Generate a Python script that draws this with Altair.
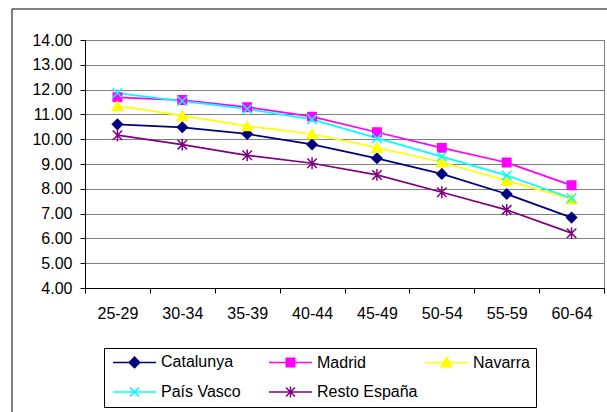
import altair as alt
import pandas as pd

# Age groups and regional series
edades = ["25-29", "30-34", "35-39", "40-44", "45-49", "50-54", "55-59", "60-64"]
series = ["Catalunya", "Madrid", "Navarra", "País Vasco", "Resto España"]

catalunya = [10.60, 10.48, 10.21, 9.79, 9.23, 8.60, 7.79, 6.84]
madrid = [11.69, 11.58, 11.29, 10.91, 10.28, 9.65, 9.06, 8.14]
navarra = [11.34, 10.95, 10.53, 10.21, 9.66, 9.07, 8.33, 7.59]
pais_vasco = [11.86, 11.54, 11.22, 10.80, 10.04, 9.30, 8.54, 7.62]
resto_espana = [10.16, 9.78, 9.35, 9.03, 8.56, 7.86, 7.15, 6.21]

colores = ["#000080", "#FF00FF", "#FFFF00", "#00FFFF", "#800080"]

# Marker glyphs drawn on the lines
marcadores = [
    ("diamond", 100, True),
    ("square", 72, True),
    ("triangle-up", 110, True),
    ("M-1,-1L1,1M-1,1L1,-1", 90, False),
    ("M-1,-1L1,1M-1,1L1,-1M0,-1.25V1.25", 90, False),
]

# Legend glyphs: a short line segment with the marker in its middle
simbolos_leyenda = [
    "M-1,0H7.6M3.3,-1.05L4.35,0L3.3,1.05L2.25,0Z",
    "M-1,0H7.6M2.45,-0.85H4.15V0.85H2.45Z",
    "M-1,0H7.6M3.3,-1.05L4.4,0.85L2.2,0.85Z",
    "M-1,0H7.6M2.4,-0.9L4.2,0.9M2.4,0.9L4.2,-0.9",
    "M-1,0H7.6M2.4,-0.9L4.2,0.9M2.4,0.9L4.2,-0.9M3.3,-1.1V1.1",
]

valores = [catalunya, madrid, navarra, pais_vasco, resto_espana]
df = pd.DataFrame(
    [
        {"edad": e, "serie": s, "valor": v}
        for s, vals in zip(series, valores)
        for e, v in zip(edades, vals)
    ]
)

fuente = "Liberation Sans"

leyenda = alt.Legend(
    title=None,
    orient="none",
    direction="horizontal",
    legendX=19,
    legendY=308,
    columns=3,
    gridAlign="all",
    columnPadding=4,
    rowPadding=12,
    padding=6,
    strokeColor="black",
    fillColor="white",
    labelFont=fuente,
    labelFontSize=16,
    labelColor="black",
    labelOffset=35,
    symbolSize=100,
    symbolStrokeWidth=1.5,
    symbolOpacity=1,
)

x_enc = alt.X(
    "edad:N",
    sort=edades,
    title=None,
    scale=alt.Scale(type="band", domain=edades, paddingInner=0, paddingOuter=0),
    axis=alt.Axis(
        labelAngle=0,
        tickBand="extent",
        tickSize=5,
        tickColor="black",
        domainColor="black",
        labelFont=fuente,
        labelFontSize=16,
        labelColor="black",
        labelPadding=12,
        grid=False,
    ),
)
y_enc = alt.Y(
    "valor:Q",
    title=None,
    scale=alt.Scale(domain=[4, 14], nice=False, zero=False),
    axis=alt.Axis(
        values=list(range(4, 15)),
        format=".2f",
        tickSize=5,
        tickColor="black",
        domainColor="black",
        labelFont=fuente,
        labelFontSize=16,
        labelColor="black",
        labelPadding=8,
        grid=True,
        gridColor="#808080",
        gridWidth=1,
    ),
)

escala_color = alt.Scale(domain=series, range=colores)

stroke_enc = alt.Stroke("serie:N", scale=escala_color, legend=leyenda)
fill_enc = alt.Fill("serie:N", scale=escala_color, legend=leyenda)

base = alt.Chart(df)

# Outer frame of the figure
marco = alt.Chart(pd.DataFrame({"k": [0]})).mark_rect(
    fillOpacity=0, stroke="black", strokeWidth=1
).encode(
    x=alt.value(-73), x2=alt.value(700), y=alt.value(-31), y2=alt.value(600)
)

lineas = base.mark_line(strokeWidth=1.75).encode(
    x=x_enc, y=y_enc, stroke=stroke_enc, detail="serie:N"
)

capas = [marco, lineas]
for s, (forma, tam, relleno) in zip(series, marcadores):
    capa = base.transform_filter(alt.datum.serie == s).mark_point(
        shape=forma,
        size=tam,
        filled=relleno,
        opacity=1,
        strokeWidth=1.5,
    ).encode(x=x_enc, y=y_enc, stroke=stroke_enc, fill=fill_enc)
    capas.append(capa)

# Layer that only feeds the legend with its line-and-marker glyphs
capa_leyenda = base.transform_filter("false").mark_point(
    filled=True, opacity=1, strokeWidth=1.5
).encode(
    x=x_enc,
    y=y_enc,
    stroke=stroke_enc,
    fill=fill_enc,
    shape=alt.Shape(
        "serie:N",
        scale=alt.Scale(domain=series, range=simbolos_leyenda),
        legend=leyenda,
    ),
)
capas.append(capa_leyenda)

chart = (
    alt.layer(*capas)
    .properties(
        width=519,
        height=248,
        autosize=alt.AutoSizeParams(type="none"),
        padding={"left": 85, "top": 40, "right": 3, "bottom": 124},
        background="white",
    )
    .configure_view(stroke="#808080", strokeWidth=1)
)

chart.save("out.html", embed_options={"renderer": "svg", "actions": False})
